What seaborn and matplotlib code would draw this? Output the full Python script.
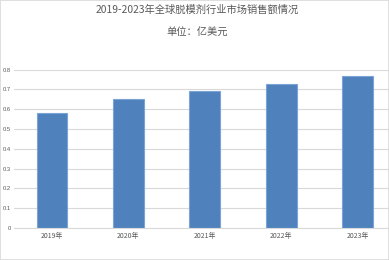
import matplotlib
matplotlib.use("Agg")
import matplotlib.pyplot as plt
import seaborn as sns
import pandas as pd
from matplotlib.patches import Rectangle

years = ["2019年", "2020年", "2021年", "2022年", "2023年"]
values = [0.58, 0.65, 0.69, 0.73, 0.77]
yticks = [0, 0.1, 0.2, 0.3, 0.4, 0.5, 0.6, 0.7, 0.8]
ytick_labels = ["0", "0.1", "0.2", "0.3", "0.4", "0.5", "0.6", "0.7", "0.8"]
title = "2019-2023年全球脱模剂行业市场销售额情况"
subtitle = "单位：亿美元"

sns.set_theme(style="white")
plt.rcParams['font.family'] = ['Noto Sans CJK SC', 'DejaVu Sans']

df = pd.DataFrame({"year": years, "value": values})

fig = plt.figure(figsize=(3.89, 2.60), dpi=100)
ax = fig.add_axes([14/389, 32/260, 1 - 14/389, (228 - 69.7)/260])

sns.barplot(data=df, x="year", y="value", ax=ax, color="#4F81BD", width=0.405,
            edgecolor="#7AA3D6", linewidth=0.8, saturation=1)

ax.set_ylim(0, 0.8)
ax.set_xlim(-0.497, 4.408)
ax.set_yticks(yticks)
ax.set_yticklabels(ytick_labels)
ax.yaxis.grid(True, color="#D9D9D9", linewidth=0.8)
ax.set_axisbelow(True)
for s in ["top", "right", "left"]:
    ax.spines[s].set_visible(False)
ax.spines["bottom"].set_color("#D9D9D9")
ax.spines["bottom"].set_linewidth(0.8)
ax.tick_params(axis="x", length=0, labelsize=5, labelcolor="#595959", pad=3)
ax.tick_params(axis="y", length=0, labelcolor="#595959", pad=2.5)
for lbl in ax.get_yticklabels():
    lbl.set_family(['Liberation Sans'])
    lbl.set_fontsize(4.2)
ax.set_xlabel("")
ax.set_ylabel("")

fig.text(197/389, 1 - 10/260, title, ha="center", va="center", fontsize=7.4, color="#595959")
fig.text(197/389, 1 - 33/260, subtitle, ha="center", va="center", fontsize=7.4, color="#595959")

fig.patches.append(Rectangle((0, 0), 1, 1, transform=fig.transFigure, fill=False,
                             edgecolor="#D9D9D9", linewidth=1.2))

fig.savefig("out.png", dpi=100)
